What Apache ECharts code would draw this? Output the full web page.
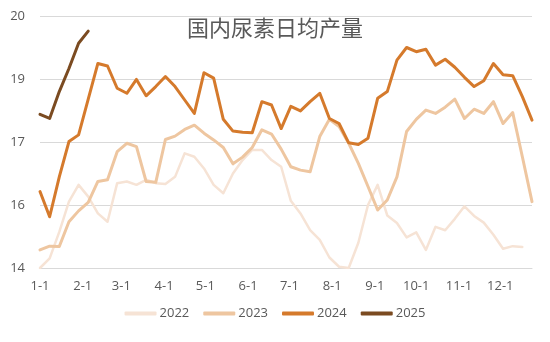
<!DOCTYPE html>
<html>
<head>
<meta charset="utf-8">
<script src="https://cdn.jsdelivr.net/npm/echarts@6/dist/echarts.min.js"></script>
<style>html,body{margin:0;padding:0;background:#fff}#c{width:550px;height:342px}</style>
</head>
<body>
<div id="c"></div>
<script>
// weekly values (week i = day 7*i from Jan 1)
const y2022 = [14.00,14.23,14.86,15.58,15.98,15.70,15.30,15.10,16.02,16.06,15.98,16.10,16.02,16.00,16.17,16.73,16.65,16.37,15.98,15.78,16.25,16.57,16.81,16.81,16.57,16.41,15.60,15.30,14.90,14.67,14.25,14.03,14.00,14.60,15.50,15.98,15.25,15.07,14.73,14.85,14.43,14.98,14.90,15.17,15.47,15.24,15.08,14.79,14.46,14.52,14.50];
const y2023 = [14.43,14.52,14.51,15.10,15.36,15.56,16.06,16.10,16.77,16.97,16.89,16.06,16.04,17.06,17.14,17.30,17.40,17.21,17.05,16.87,16.48,16.64,16.87,17.29,17.19,16.83,16.41,16.33,16.29,17.13,17.54,17.37,16.97,16.49,15.94,15.38,15.62,16.17,17.25,17.54,17.76,17.68,17.83,18.02,17.56,17.78,17.68,17.96,17.44,17.70,16.65,15.58];
const y2024 = [15.82,15.22,16.17,17.01,17.17,18.02,18.87,18.81,18.28,18.16,18.49,18.10,18.32,18.56,18.32,18.00,17.68,18.65,18.52,17.54,17.26,17.23,17.22,17.96,17.88,17.32,17.85,17.74,17.96,18.16,17.56,17.44,16.98,16.94,17.09,18.04,18.20,18.95,19.25,19.15,19.21,18.83,18.97,18.78,18.54,18.32,18.46,18.87,18.60,18.58,18.08,17.52];
const y2025 = [17.66,17.56,18.20,18.75,19.35,19.64];
const seriesNames = ['2022','2023','2024','2025'];
const yTicks = {min:14, max:20, interval:1.5};

// daily categories Jan 1 .. Dec 24
const monthLen = [31,28,31,30,31,30,31,31,30,31,30,31];
const days = [];
for (let m = 0; m < 12; m++) for (let d = 1; d <= monthLen[m]; d++) days.push((m+1) + '-' + d);
const categories = days.slice(0, 358);

const toPairs = arr => arr.map((v, i) => [i * 7, v]);
const colors = ['#f6e3d5','#eec6a0','#d57a2c','#7b4b21'];
const widths = [2.5,3,3,3];
const all = [y2022, y2023, y2024, y2025];

const chart = echarts.init(document.getElementById('c'));
chart.setOption({
  animation: false,
  title: {
    text: '国内尿素日均产量', left: 'center', top: 12,
    textStyle: {fontSize: 22, fontWeight: 'normal', color: '#595959', fontFamily: 'Noto Sans CJK SC'}
  },
  legend: {
    data: seriesNames, bottom: 17, left: 'center', icon: 'roundRect',
    itemWidth: 32, itemHeight: 4, itemGap: 14,
    textStyle: {fontSize: 13, color: '#595959', fontFamily: 'Open Sans', padding: [0,0,0,-2]}
  },
  grid: {left: 40, right: 18, top: 16, bottom: 74},
  xAxis: {
    type: 'category', data: categories, boundaryGap: false,
    axisLine: {lineStyle: {color: '#d9d9d9'}},
    axisTick: {show: false},
    axisLabel: {
      interval: (idx, val) => val.endsWith('-1') && !val.endsWith('-11') && !val.endsWith('-21') && !val.endsWith('-31'),
      color: '#595959', fontSize: 13, margin: 12, fontFamily: 'Open Sans'
    },
    splitLine: {show: false}
  },
  yAxis: {
    type: 'value', min: yTicks.min, max: yTicks.max, interval: yTicks.interval,
    axisLine: {show: false}, axisTick: {show: false},
    axisLabel: {color: '#595959', fontSize: 13, margin: 15, fontFamily: 'Open Sans', formatter: v => String(Math.round(v))},
    splitLine: {lineStyle: {color: '#d9d9d9'}}
  },
  series: all.map((arr, k) => ({
    name: seriesNames[k], type: 'line', data: toPairs(arr), symbol: 'none',
    lineStyle: {color: colors[k], width: widths[k], cap: 'round', join: 'round'},
    itemStyle: {color: colors[k]}
  }))
});
</script>
</body>
</html>
